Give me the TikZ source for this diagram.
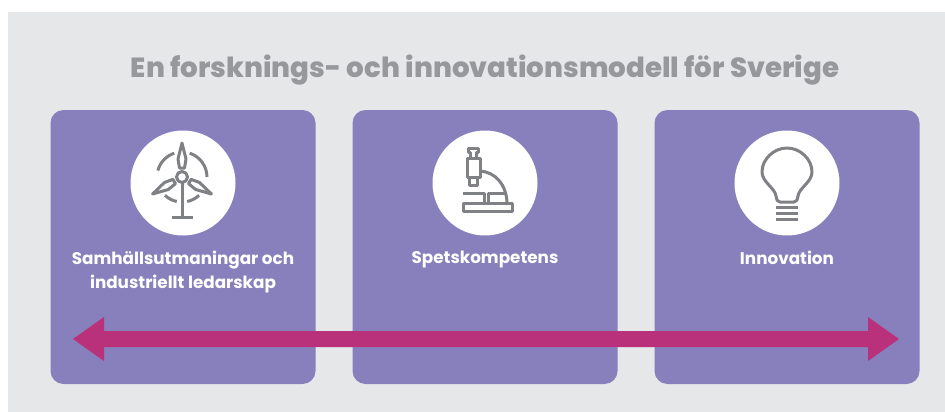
\documentclass[tikz,border=0pt]{standalone}
\usepackage{fontspec}
\setmainfont{Poppins}
\newfontfamily\titlefont{Poppins ExtraBold}
\usetikzlibrary{positioning}
\definecolor{panel}{HTML}{E6E7E8}
\definecolor{boxpurple}{HTML}{8880BC}
\definecolor{arrowpink}{HTML}{B9317A}
\definecolor{icongray}{HTML}{808184}
\definecolor{titlegray}{HTML}{97989B}
\tikzset{
	box/.style={rectangle,fill=boxpurple,rounded corners=13pt,minimum width=265pt,minimum height=274pt,inner sep=0pt},
	disc/.style={circle,fill=white,minimum size=105pt,inner sep=0pt},
	caption/.style={white,font=\fontsize{16.8}{24}\selectfont\bfseries,align=center,anchor=north},
	icon/.style={draw=icongray,line width=3pt,line join=round}
}
\begin{document}
\begin{tikzpicture}[x=1pt,y=-1pt]
	\useasboundingbox (0,0) rectangle (945,412);
	\fill[panel] (8,12) rectangle (945,412);
	\node [titlegray,font=\titlefont\fontsize{27.7}{34}\selectfont] (title) at (485,70) {En forsknings- och innovationsmodell för Sverige};
	\node [box] (left) at (183,247) {};
	\node [box] (middle) at (485,247) {};
	\node [box] (right) at (787,247) {};
	\node [disc] (discleft) at (183,183) {};
	\node [disc] (discmiddle) at (485,183) {};
	\node [disc] (discright) at (787,183) {};
	\node [caption] (captionleft) at (183,248) {Samhällsutmaningar och\\industriellt ledarskap};
	\node [caption] (captionmiddle) at (485,248) {Spetskompetens};
	\node [caption] (captionright) at (787,248) {Innovation};
	% arrow
	\coordinate (tipleft) at (73,339);
	\coordinate (tipright) at (899,339);
	\fill [arrowpink] (tipleft) -- (104,317) -- (104,331) -- (868,331) -- (868,317) -- (tipright) -- (868,361) -- (868,347) -- (104,347) -- (104,361) -- cycle;
	% wind turbine
	\begin{scope}[shift={(182,177)},icon]
		\draw (0,0) circle (5.5);
		\draw (0,6) -- (0,40);
		\draw (-10,40) -- (11,40);
		\foreach \a in {0,120,240} {
			\begin{scope}[rotate=\a]
				\draw (-2.5,-9) -- (-4,-18) -- (0,-34) -- (4,-18) -- (2.5,-9) -- cycle;
			\end{scope}
		}
		\draw (7.7,-23.8) arc[start angle=-72,end angle=0,radius=25];
		\draw (-7.7,-23.8) arc[start angle=252,end angle=195,radius=25];
		\draw (5.2,24.5) arc[start angle=78,end angle=47,radius=25];
		\draw (-5.2,24.5) arc[start angle=102,end angle=133,radius=25];
	\end{scope}
	% microscope
	\begin{scope}[shift={(485,183)},icon]
		\draw (-17,-35) -- (-7,-35) -- (-7,-31) -- (-9,-31) -- (-9,-25) -- (-15,-25) -- (-15,-31) -- (-17,-31) -- cycle;
		\draw (-18,-25) rectangle (-5,-6);
		\draw (-16,-6) rectangle (-8,2);
		\draw (-5,-12) .. controls (10,-11) and (21,1) .. (22,19);
		\draw (-22,10) -- (-1,10) -- (-1,20);
		\draw (3,20) -- (3,10) -- (22,10);
		\draw (-22,20) rectangle (27,28);
	\end{scope}
	% light bulb
	\begin{scope}[shift={(787,183)},icon]
		\draw (-11,13) .. controls (-12,5) and (-25,-1) .. (-25,-11) .. controls (-25,-24) and (-13,-35) .. (0,-35) .. controls (13,-35) and (25,-24) .. (25,-11) .. controls (25,-1) and (12,5) .. (11,13) .. controls (10,17) and (10,19) .. (7,19) -- (-7,19) .. controls (-10,19) and (-10,17) .. (-11,13) -- cycle;
		\foreach \y in {24,30,36}
			\draw (-11,\y) -- (11,\y);
	\end{scope}
\end{tikzpicture}
\end{document}
